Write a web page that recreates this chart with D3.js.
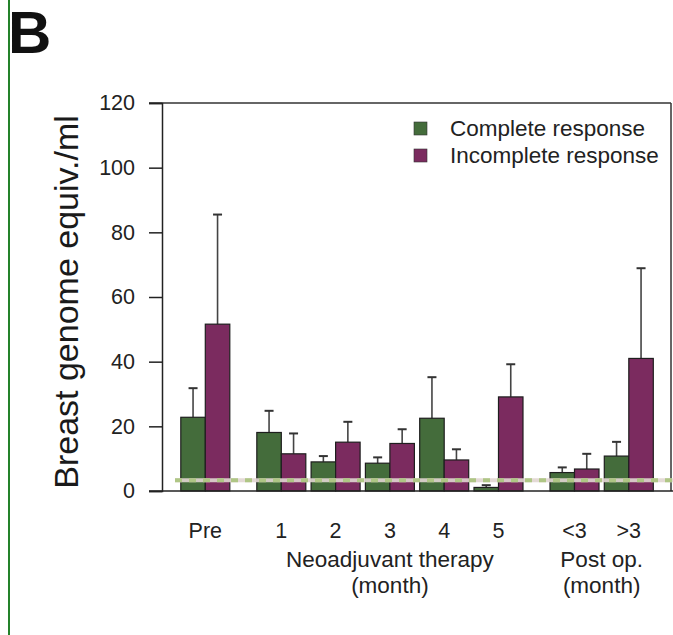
<!DOCTYPE html>
<html><head><meta charset="utf-8">
<script src="https://cdn.jsdelivr.net/npm/d3@7"></script>
<style>html,body{margin:0;padding:0;background:#fff;}svg{display:block;}</style>
</head><body>
<script>
const categories = ["Pre","1","2","3","4","5","<3",">3"];
const categoryGroup = [0,1,1,1,1,1,2,2];
const completeValues = [22.8, 18.1, 9.0, 8.6, 22.5, 1.1, 5.7, 10.8];
const completeErrors = [9.0, 6.7, 1.8, 1.8, 12.7, 0.7, 1.6, 4.4];
const incompleteValues = [51.6, 11.5, 15.1, 14.7, 9.6, 29.1, 6.8, 41.0];
const incompleteErrors = [33.9, 6.3, 6.3, 4.4, 3.3, 10.1, 4.7, 27.9];
const seriesNames = ["Complete response","Incomplete response"];
const yTicks = [0,20,40,60,80,100,120];
const groupLabels = [{group:1, lines:["Neoadjuvant therapy","(month)"]},{group:2, lines:["Post op.","(month)"]}];
const thresholdValue = 3.3;

const W = 673, H = 635;
const font = "'Liberation Sans', Arial, Helvetica, sans-serif";
const colors = ["#446c3b", "#7b2b5f"];

const svg = d3.select("body").append("svg").attr("width", W).attr("height", H);
svg.append("rect").attr("width", W).attr("height", H).attr("fill", "#fff");
// green left border
svg.append("line").attr("x1", 9).attr("x2", 9).attr("y1", 0).attr("y2", H)
  .attr("stroke", "#24822a").attr("stroke-width", 2);

svg.append("text").attr("x", 8).attr("y", 53).attr("font-family", font)
  .attr("font-weight", "bold").attr("font-size", 60).attr("fill", "#111").text("B");

// slot positions: gap of 0.4 between groups
const slots = [];
let s = 0;
categories.forEach((c, i) => {
  if (i > 0) s += (categoryGroup[i] !== categoryGroup[i-1]) ? 1.4 : 1;
  slots.push(s);
});
const x = d3.scaleLinear().domain([0, 7.8]).range([205.3, 628.8]);
const y = d3.scaleLinear().domain([0, 120]).range([491, 103]);
const barW = 24.5;
const axisX = 162, rightX = 671;

// frame
const g = svg.append("g");
g.append("line").attr("x1", 149).attr("x2", rightX).attr("y1", y(120)).attr("y2", y(120)).attr("stroke", "#333").attr("stroke-width", 1.5);
g.append("line").attr("x1", rightX).attr("x2", rightX).attr("y1", y(120)).attr("y2", y(0)).attr("stroke", "#333").attr("stroke-width", 1.5);

// y axis
const yAxis = d3.axisLeft(y).tickValues(yTicks).tickSize(13).tickPadding(14).tickFormat(d3.format("d"));
const ya = svg.append("g").attr("transform", `translate(${axisX},0)`).call(yAxis);
ya.select(".domain").attr("stroke", "#222").attr("stroke-width", 1.5);
ya.selectAll(".tick line").attr("stroke", "#222").attr("stroke-width", 1.5);
ya.selectAll(".tick text").attr("font-family", font).attr("font-size", 21.5).attr("fill", "#222");

svg.append("text").attr("transform", `translate(78,302) rotate(-90)`)
  .attr("text-anchor", "middle").attr("font-family", font).attr("font-size", 34).attr("fill", "#1a1a1a")
  .text("Breast genome equiv./ml");

// bars
const series = [
  {vals: completeValues, errs: completeErrors, off: -1},
  {vals: incompleteValues, errs: incompleteErrors, off: 0}
];
series.forEach((sr, si) => {
  const bg = svg.append("g");
  categories.forEach((c, i) => {
    const cx = x(slots[i]) + sr.off * barW + barW / 2;
    const top = y(sr.vals[i] + sr.errs[i]);
    bg.append("line").attr("x1", cx).attr("x2", cx).attr("y1", y(sr.vals[i])).attr("y2", top)
      .attr("stroke", "#444").attr("stroke-width", 1.6);
    bg.append("line").attr("x1", cx - 4.5).attr("x2", cx + 4.5).attr("y1", top).attr("y2", top)
      .attr("stroke", "#333").attr("stroke-width", 2);
  });
  bg.selectAll("rect").data(sr.vals).join("rect")
    .attr("x", (d, i) => x(slots[i]) + sr.off * barW)
    .attr("y", d => y(d))
    .attr("width", barW)
    .attr("height", d => y(0) - y(d))
    .attr("fill", colors[si]).attr("stroke", "#1e1e1e").attr("stroke-width", 1.2);
});

// bottom line
svg.append("line").attr("x1", 149).attr("x2", W).attr("y1", y(0)).attr("y2", y(0)).attr("stroke", "#222").attr("stroke-width", 1.5);

// threshold dashed line
svg.append("line").attr("x1", 175).attr("x2", W).attr("y1", y(thresholdValue)).attr("y2", y(thresholdValue))
  .attr("stroke", "#e2d6d2").attr("stroke-width", 4).attr("opacity", 0.9);
svg.append("line").attr("x1", 175).attr("x2", W).attr("y1", y(thresholdValue)).attr("y2", y(thresholdValue))
  .attr("stroke", "#afc685").attr("stroke-width", 4).attr("stroke-dasharray", "7,7");

// x labels
svg.append("g").selectAll("text").data(categories).join("text")
  .attr("x", (d, i) => x(slots[i]))
  .attr("y", 538)
  .attr("text-anchor", "middle").attr("font-family", font).attr("font-size", 21.5).attr("fill", "#222")
  .text(d => d);

groupLabels.forEach(gl => {
  const idx = categories.map((c, i) => i).filter(i => categoryGroup[i] === gl.group);
  const cx = (x(slots[idx[0]]) + x(slots[idx[idx.length - 1]])) / 2;
  gl.lines.forEach((t, li) => {
    svg.append("text").attr("x", cx).attr("y", 567 + li * 26)
      .attr("text-anchor", "middle").attr("font-family", font).attr("font-size", 22.5).attr("fill", "#222")
      .text(t);
  });
});

// legend
const lg = svg.append("g");
seriesNames.forEach((n, i) => {
  const yy = 136 + i * 27;
  lg.append("rect").attr("x", 414).attr("y", yy - 14).attr("width", 13).attr("height", 13)
    .attr("fill", colors[i]).attr("stroke", "#333").attr("stroke-width", 0.6);
  lg.append("text").attr("x", 450).attr("y", yy).attr("font-family", font).attr("font-size", 22.5)
    .attr("fill", "#222").text(n);
});
</script>
</body></html>
